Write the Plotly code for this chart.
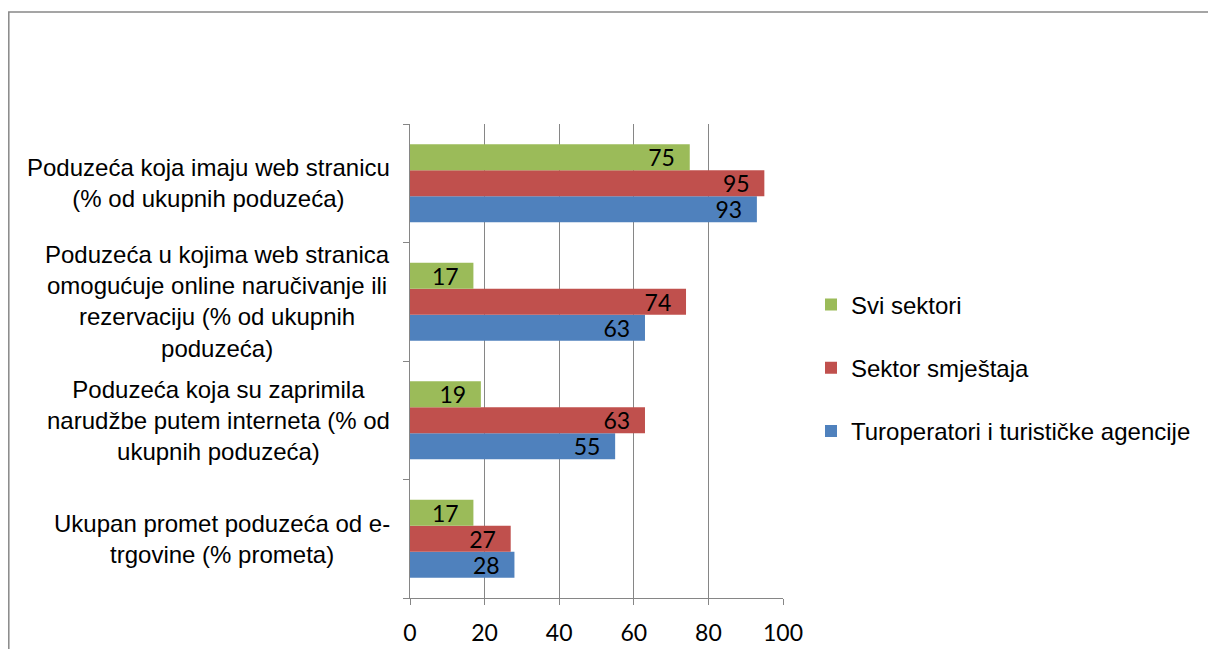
import plotly.graph_objects as go

categories = [
    "Poduzeća koja imaju web stranicu<br>(% od ukupnih poduzeća)",
    "Poduzeća u kojima web stranica<br>omogućuje online naručivanje ili<br>rezervaciju (% od ukupnih<br>poduzeća)",
    "Poduzeća koja su zaprimila<br>narudžbe putem interneta (% od<br>ukupnih poduzeća)",
    "Ukupan promet poduzeća od e-<br>trgovine (% prometa)",
]
cat_ids = ["c1", "c2", "c3", "c4"]
series_names = ["Turoperatori i turističke agencije", "Sektor smještaja", "Svi sektori"]
turoperatori = [93, 63, 55, 28]
smjestaj = [95, 74, 63, 27]
svi = [75, 17, 19, 17]
colors = ["#4F81BD", "#C0504D", "#9BBB59"]
x_ticks = [0, 20, 40, 60, 80, 100]

# page body has an 8px margin; figure coords = screen - 8
W, H = 1200, 641
L, R, T, B = 402, 775, 116, 590

fig = go.Figure()
for i, (name, vals) in enumerate(zip(series_names, [turoperatori, smjestaj, svi])):
    fig.add_trace(go.Bar(
        y=cat_ids, x=vals, name=name, orientation="h",
        marker=dict(color=colors[i], line=dict(width=0)),
        text=[str(v) for v in vals], textposition="inside",
        texttemplate="%{text}\u00a0\u00a0",
        insidetextanchor="end", constraintext="none", textangle=0,
        textfont=dict(family="Lato", size=23, color="black"),
        legendgroup=name, legendrank=3 - i,
    ))

pw, ph = R - L, B - T
def px_x(p):
    return (p - L) / pw
def px_y(p):
    return (B - p) / ph

for cid, label in zip(cat_ids, categories):
    fig.add_annotation(x=px_x(384), xref="paper", y=cid, yref="y", text=label,
                       showarrow=False, xanchor="right", yanchor="middle", align="center",
                       font=dict(family="Liberation Sans, Arial", size=24, color="black"))

fig.add_shape(type="rect", xref="paper", yref="paper",
              x0=px_x(0.8), x1=px_x(1230), y0=px_y(670), y1=px_y(4),
              line=dict(color="#888888", width=1.5), fillcolor="rgba(0,0,0,0)", layer="below")

fig.update_layout(
    width=W, height=H,
    margin=dict(l=L, r=W - R, t=T, b=H - B, pad=0, autoexpand=False),
    paper_bgcolor="white", plot_bgcolor="white",
    barmode="group", bargap=0.34, bargroupgap=0,
    showlegend=True,
    legend=dict(x=px_x(803), y=px_y(360), xanchor="left", yanchor="middle",
                traceorder="grouped", tracegroupgap=29,
                font=dict(family="Liberation Sans, Arial", size=24, color="black"),
                bgcolor="rgba(0,0,0,0)"),
    xaxis=dict(range=[0, 100], tickvals=x_ticks, ticktext=[str(v) for v in x_ticks],
               showgrid=True, gridcolor="#868686", gridwidth=1,
               showline=True, linecolor="#868686", linewidth=1,
               ticks="outside", ticklen=6, tickcolor="#868686",
               ticklabelstandoff=8, automargin=False,
               tickfont=dict(family="Lato", size=23, color="black"),
               zeroline=False, fixedrange=True),
    yaxis=dict(categoryorder="array", categoryarray=cat_ids[::-1],
               showticklabels=False, showline=True, linecolor="#868686", linewidth=1,
               ticks="outside", ticklen=6, tickcolor="#868686", tickson="boundaries",
               automargin=False,
               showgrid=False, zeroline=False, fixedrange=True),
)

fig.write_html("out.html")
